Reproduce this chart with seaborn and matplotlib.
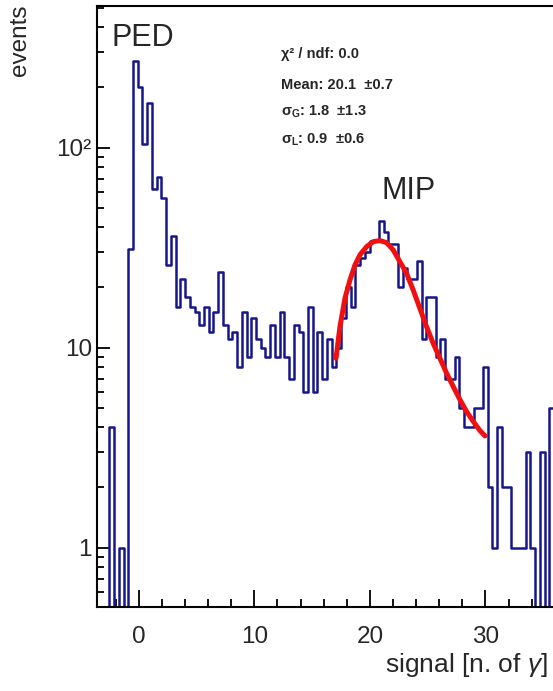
import numpy as np
import pandas as pd
import matplotlib
matplotlib.use("Agg")
import matplotlib.pyplot as plt
import seaborn as sns
from matplotlib.ticker import FixedLocator, MultipleLocator, LogLocator, NullFormatter

# ---------------- data ----------------
bin_start = -3.764      # left edge of first bin
bin_width = 0.4092
counts = [0, 0, 0, 4, 0, 1, 0,
          31, 270, 201, 104, 168, 62, 71, 56, 26, 36,
          16, 22, 18, 16, 15, 13, 16, 12, 15, 24,
          13, 11, 12, 8, 15, 9, 14, 11, 10, 9,
          13, 9, 15, 9, 7, 13, 12, 6, 16, 6,
          12, 7, 11, 8, 10, 14, 20, 16, 26, 28,
          30, 34, 34, 43, 38, 33, 33, 20, 25, 22,
          22, 27, 11, 18, 18, 9, 11, 7, 7, 9,
          5, 4, 4, 5, 5, 8, 2, 1, 4, 2,
          2, 1, 1, 1, 3, 1, 0, 3, 0, 5]

fit_x = [17.07, 17.41, 17.85, 18.28, 18.71, 19.14, 19.72, 20.29, 20.87, 21.45,
         22.02, 22.60, 23.18, 23.75, 24.33, 24.91, 25.48, 26.06, 26.64, 27.22,
         27.80, 28.37, 28.95, 29.52, 29.96]
fit_y = [8.85, 12.7, 17.7, 21.8, 25.9, 29.1, 32.0, 33.9, 34.3, 33.5,
         30.8, 26.9, 23.5, 19.4, 15.7, 12.7, 10.5, 8.85, 7.45, 6.38,
         5.48, 4.79, 4.27, 3.85, 3.62]

xticks = [0, 10, 20, 30]
xticklabels = ["0", "10", "20", "30"]
yticks = [1, 10, 100]
yticklabels = ["1", "10", "10²"]

stats_lines = ["χ² / ndf: 0.0",
               "Mean: 20.1  ±0.7",
               r"$\mathbf{\sigma}_{\mathbf{G}}$: 1.8  ±1.3",
               r"$\mathbf{\sigma}_{\mathbf{L}}$: 0.9  ±0.6"]

# ---------------- styling ----------------
sns.set_theme(style="ticks")
plt.rcParams['font.family'] = ['Liberation Sans', 'DejaVu Sans']
plt.rcParams['mathtext.fontset'] = 'custom'
plt.rcParams['mathtext.rm'] = 'Liberation Sans'
plt.rcParams['mathtext.it'] = 'Liberation Sans:italic'
plt.rcParams['mathtext.bf'] = 'Liberation Sans:bold'

HIST_COLOR = "#16168c"
FIT_COLOR = "#f01010"

edges = [bin_start + bin_width * i for i in range(len(counts) + 1)]
centers = [0.5 * (edges[i] + edges[i + 1]) for i in range(len(counts))]
# individual events: each bin centre repeated by its count
events = np.repeat(np.array(centers), np.array(counts))
df = pd.DataFrame({"signal": events})

fig = plt.figure(figsize=(5.53, 6.91), dpi=100)
ax = fig.add_axes([0.1749, 0.1211, 0.912, 0.8702])

sns.histplot(data=df, x="signal", bins=edges,
             element="step", fill=False, color=HIST_COLOR, linewidth=1.8,
             ax=ax)
sns.lineplot(x=fit_x, y=fit_y, color=FIT_COLOR, linewidth=3.6, ax=ax,
             sort=False, estimator=None)

ax.set_yscale('log', nonpositive='clip')
ax.set_xlim(-3.63, 40)
ax.set_ylim(0.503, 511)

ax.set_xlabel("")
ax.set_ylabel("")

ax.xaxis.set_major_locator(FixedLocator(xticks))
ax.set_xticklabels(xticklabels)
ax.xaxis.set_minor_locator(MultipleLocator(2))
ax.yaxis.set_major_locator(FixedLocator(yticks))
ax.set_yticklabels(yticklabels)
ax.yaxis.set_minor_locator(LogLocator(base=10, subs=np.arange(2, 10)))
ax.yaxis.set_minor_formatter(NullFormatter())

ax.tick_params(axis='x', which='major', direction='in', length=12, width=1.3,
               labelsize=17.5, pad=13.5, top=False, color='black')
ax.tick_params(axis='x', which='minor', direction='in', length=6, width=1.3,
               top=False, color='black')
ax.tick_params(axis='y', which='major', direction='in', length=9.5, width=1.3,
               labelsize=17.5, pad=3.5, right=False, color='black')
ax.tick_params(axis='y', which='minor', direction='in', length=5, width=1.3,
               right=False, color='black')

for s in ['left', 'bottom', 'top', 'right']:
    ax.spines[s].set_visible(True)
    ax.spines[s].set_linewidth(1.5)
    ax.spines[s].set_color('black')

ax.grid(False)

# axis labels
fig.text(20 / 553, 1 - 4 / 691, "events", rotation=90, ha='center', va='top',
         fontsize=17.5)
fig.text(385 / 553, 1 - 672 / 691, r"signal [n. of $\gamma$]", ha='left',
         va='baseline', fontsize=19)

# peak annotations
fig.text(111 / 553, 1 - 38 / 691, "PED", ha='left', va='center', fontsize=22)
fig.text(382 / 553, 1 - 191 / 691, "MIP", ha='left', va='center', fontsize=22)

# fit statistics text
stat_y = [54, 85, 112, 140]
for line, yy in zip(stats_lines, stat_y):
    fig.text(281 / 553, 1 - yy / 691, line, ha='left', va='center',
             fontsize=10.5, fontweight='bold')

fig.savefig("out.png", dpi=100)
